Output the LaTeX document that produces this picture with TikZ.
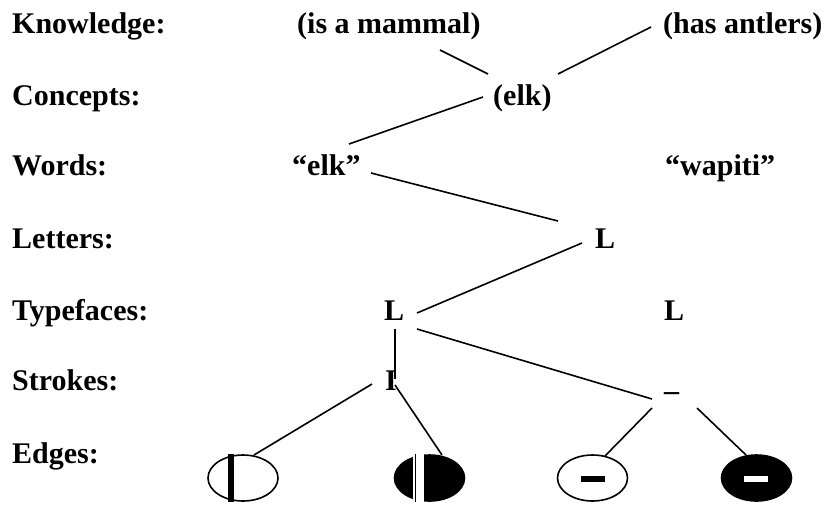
\documentclass[tikz,border=0pt]{standalone}
\usepackage{fontspec}
\setmainfont{Liberation Serif}
\usetikzlibrary{shapes.geometric}
\begin{document}
\begin{tikzpicture}[x=1pt,y=-1pt,
  txt/.style={anchor=base west,inner sep=0pt,font=\fontsize{30}{36}\selectfont\bfseries},
  conn/.style={line width=1.6pt},
  edgeW/.style={ellipse,draw,line width=1.6pt,fill=white,minimum width=70pt,minimum height=46pt,inner sep=0pt},
  edgeB/.style={ellipse,draw,line width=1.6pt,fill=black,minimum width=70pt,minimum height=46pt,inner sep=0pt}]
\useasboundingbox (0,0) rectangle (829,504);
% row labels
\node[txt] (klab) at (12,33) {Knowledge:};
\node[txt] (clab) at (12,105) {Concepts:};
\node[txt] (wlab) at (12,175) {Words:};
\node[txt] (llab) at (12,248) {Letters:};
\node[txt] (tlab) at (12,320) {Typefaces:};
\node[txt] (slab) at (12,390) {Strokes:};
\node[txt] (elab) at (12,463) {Edges:};
% items
\node[txt] (mammal) at (297,33) {(is a mammal)};
\node[txt] (antlers) at (663,33) {(has antlers)};
\node[txt] (elk) at (493,105) {(elk)};
\node[txt] (welk) at (292,175) {“elk”};
\node[txt] (wapiti) at (665,175) {“wapiti”};
\node[txt] (letL) at (595,248) {L};
\node[txt] (tyL) at (384,320) {L};
\node[txt] (tyR) at (664,320) {L};
\node[txt] (stI) at (385,390) {I};
\node[txt] (stU) at (664,390) {\_};
% edges
\node[edgeW] (e1) at (243,478) {};
\node[edgeB] (e2) at (429.5,478) {};
\node[edgeW] (e3) at (592.5,478) {};
\node[edgeB] (e4) at (756.5,478) {};
\fill[black] (228,454) rectangle (234,502);
\fill[white] (413,454) rectangle (424,502);
\fill[black] (414.5,454) rectangle (416,502);
\fill[black] (581,476) rectangle (605,482);
\fill[white] (744,476) rectangle (768,482);
% connector end points
\coordinate (mammal-o) at (440,50);
\coordinate (elk-a) at (488,74);
\coordinate (antlers-o) at (651,27);
\coordinate (elk-b) at (558,74);
\coordinate (elk-c) at (483,97);
\coordinate (welk-a) at (349,144);
\coordinate (welk-b) at (371,173);
\coordinate (letL-a) at (558,221);
\coordinate (letL-b) at (582,243);
\coordinate (tyL-a) at (417,313);
\coordinate (tyL-b) at (417,329);
\coordinate (stU-a) at (652,399);
\coordinate (tyL-c) at (395,329);
\coordinate (stI-a) at (395,379);
\coordinate (stI-b) at (372,384);
\coordinate (e1-a) at (254,455);
\coordinate (stI-c) at (395,385);
\coordinate (e2-a) at (442,455);
\coordinate (stU-b) at (652,408);
\coordinate (e3-a) at (605,456);
\coordinate (stU-c) at (697,408);
\coordinate (e4-a) at (746,455);
\draw[conn] (mammal-o) -- (elk-a);
\draw[conn] (antlers-o) -- (elk-b);
\draw[conn] (elk-c) -- (welk-a);
\draw[conn] (welk-b) -- (letL-a);
\draw[conn] (letL-b) -- (tyL-a);
\draw[conn] (tyL-b) -- (stU-a);
\draw[conn] (tyL-c) -- (stI-a);
\draw[conn] (stI-b) -- (e1-a);
\draw[conn] (stI-c) -- (e2-a);
\draw[conn] (stU-b) -- (e3-a);
\draw[conn] (stU-c) -- (e4-a);
\end{tikzpicture}
\end{document}
